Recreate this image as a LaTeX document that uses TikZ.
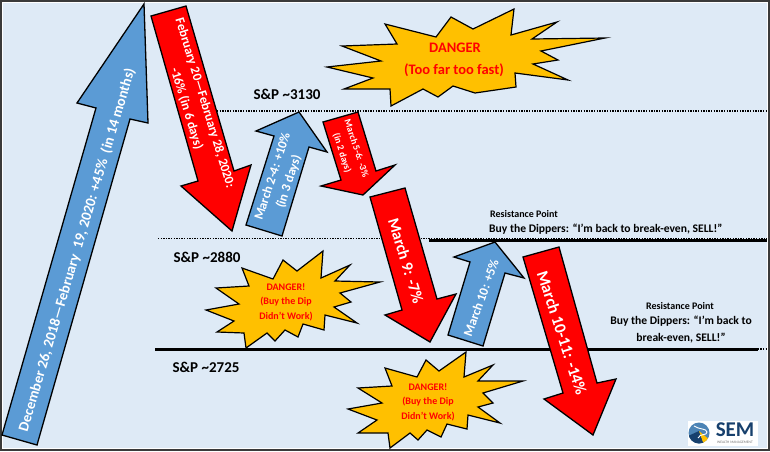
\documentclass[tikz,border=0pt]{standalone}
\usepackage{fontspec}
\setmainfont{Carlito}
\usetikzlibrary{positioning}
\definecolor{sky}{HTML}{DEEAF6}
\definecolor{frame}{HTML}{3A3A3A}
\definecolor{upblue}{HTML}{5B9BD5}
\definecolor{downred}{HTML}{FF0000}
\definecolor{burst}{HTML}{FFC000}
\definecolor{semnavy}{HTML}{17406D}
\newcommand{\fsz}[2]{\fontsize{#1}{#2}\selectfont\bfseries}
\tikzset{el/.style={line cap=butt, line join=miter, miter limit=12},
  uparrow/.style={fill=upblue, draw=black, line width=1.3pt},
  downarrow/.style={fill=downred, draw=black, line width=1.3pt},
  burststar/.style={fill=burst, draw=black, line width=1.2pt},
  arrowtext/.style={text=white, inner sep=0pt, align=center},
  bursttext/.style={text=downred, inner sep=0pt, align=center},
  leveltext/.style={text=black, inner sep=0pt, align=center},
  dotline/.style={line width=1.2pt, dash pattern=on 1.3pt off 1.3pt},
  thickline/.style={line width=3pt}}
\begin{document}
\begin{tikzpicture}[el, x=1pt, y=-1pt]
  \useasboundingbox (0,0) rectangle (770,451);
  \fill[sky] (0,0) rectangle (770,451);
  \draw[white, line width=1pt] (2.5,2.5) rectangle (767.5,448.5);
  \draw[frame, line width=2pt] (1,1) rectangle (769,450);
  % levels
  \draw[dotline] (217,111) -- (767,111);
  \draw[dotline] (158,238.5) -- (767,238.5);
  \draw[thickline, line width=2.6pt] (429,240.5) -- (767,240.5);
  \draw[dotline] (750,349) -- (767,349);
  \draw[thickline] (155,349) -- (758,349);
  % arrows up
  \draw[uparrow] (144,4) -- (148,123) -- (130,119) -- (37,445) -- (2,435) -- (96,108) -- (77,103) -- cycle;
  \draw[uparrow] (299,112) -- (327,152) -- (309,147) -- (282,236) -- (246,225) -- (274,136) -- (256,131) -- cycle;
  \draw[uparrow] (495,242) -- (524,278) -- (505,273) -- (483,346) -- (448,335) -- (470,262) -- (454,257) -- cycle;
  % arrows down
  \draw[downarrow] (151,16) -- (186,6) -- (234,171) -- (251,165) -- (232,231) -- (181,186) -- (198,181) -- cycle;
  \draw[downarrow] (323,122) -- (358,112) -- (376,171) -- (395,165) -- (363,195) -- (321,186) -- (341,180) -- cycle;
  \draw[downarrow] (370,197) -- (405,188) -- (437,299) -- (456,294) -- (430,342) -- (385,315) -- (402,310) -- cycle;
  \draw[downarrow] (523,257) -- (559,247) -- (597,383) -- (616,379) -- (593,435) -- (544,399) -- (563,393) -- cycle;
  % bursts
  \draw[burststar] (385,24) -- (436,37) -- (451,17) -- (473,29) -- (514,9) -- (511,35) -- (557,22) -- (532,39) -- (605,38) -- (541,51) -- (558,60) -- (533,64) -- (568,80) -- (515,73) -- (516,87) -- (475,93) -- (453,86) -- (438,97) -- (423,89) -- (391,106) -- (390,89) -- (344,89) -- (373,78) -- (327,67) -- (381,61) -- (342,46) -- (397,44) -- cycle;
  \draw[burststar] (242,268) -- (273,279) -- (283,260) -- (297,271) -- (323,251) -- (321,278) -- (350,265) -- (335,281) -- (380,282) -- (340,293) -- (351,302) -- (334,307) -- (357,323) -- (325,315) -- (324,330) -- (303,324) -- (298,337) -- (285,330) -- (275,341) -- (267,333) -- (246,348) -- (244,333) -- (217,332) -- (234,321) -- (206,310) -- (239,304) -- (216,288) -- (249,286) -- cycle;
  \draw[burststar] (385,368) -- (417,377) -- (426,360) -- (439,371) -- (466,352) -- (464,377) -- (493,365) -- (478,381) -- (523,381) -- (483,393) -- (493,403) -- (478,407) -- (500,423) -- (468,415) -- (467,429) -- (447,424) -- (441,437) -- (427,430) -- (418,440) -- (410,433) -- (390,448) -- (388,433) -- (358,433) -- (377,420) -- (348,409) -- (382,403) -- (358,388) -- (392,386) -- cycle;
  % arrow labels
  \node[arrowtext, rotate=73.5, font=\fsz{14.6}{17}] (bull) at (77,250) {December 26, 2018—February~~19, 2020: +45\%~~(in 14 months)};
  \node[arrowtext, rotate=-73, font=\fsz{13}{19}] (febdrop) at (195.5,106) {February 20—February 28, 2020:\\-16\% (in 6 days)};
  \node[arrowtext, rotate=72, font=\fsz{13}{17}] (marup) at (281,179) {March 2-4: +10\%\\(in 3 days)};
  \node[arrowtext, rotate=-72, font=\fsz{9.5}{15}] (mardrop) at (349,151) {March 5-6: -3\%\\(in 2 days)};
  \node[arrowtext, rotate=-73, font=\fsz{16}{20}] (nine) at (406,261) {March 9: -7\%};
  \node[arrowtext, rotate=70, font=\fsz{13}{16}] (ten) at (481,298) {March 10: +5\%};
  \node[arrowtext, rotate=-72, font=\fsz{16.5}{20}] (tenelv) at (562,333) {March 10-11: -14\%};
  % burst labels
  \node[bursttext, font=\fsz{14.5}{16}] (danger) at (455,48) {DANGER};
  \node[bursttext, font=\fsz{14.5}{16}] (toofast) at (454,70) {(Too far too fast)};
  \foreach \nm/\cx/\cy in {dipa/286/302,dipb/428/402}{
    \node[bursttext, font=\fsz{10}{14.5}] (\nm) at (\cx,\cy) {DANGER!\\(Buy the Dip\\Didn’t Work)};}
  % level labels
  \node[leveltext, font=\fsz{15}{17}] (lvla) at (287,94) {S\&P \textasciitilde3130};
  \node[leveltext, font=\fsz{15}{17}] (lvlb) at (207,257) {S\&P \textasciitilde2880};
  \node[leveltext, font=\fsz{15}{17}] (lvlc) at (206,367) {S\&P \textasciitilde2725};
  \node[leveltext, anchor=west, font=\fsz{10}{12}] (resa) at (490,214) {Resistance Point};
  \node[leveltext, anchor=west, font=\fsz{11.6}{14}] (sella) at (489,229) {Buy the Dippers: “I’m back to break-even, SELL!”};
  \node[leveltext, font=\fsz{10}{12}] (resb) at (680,306) {Resistance Point};
  \node[leveltext, font=\fsz{11.6}{16.5}] (sellb) at (681,329.5) {Buy the Dippers: “I’m back to\\break-even, SELL!”};
  % logo
  \fill[white] (688,421) rectangle (758,446);
  \begin{scope}
    \clip (699,433) circle (10.5);
    \fill[upblue!85!black] (688,422) rectangle (710,444);
    \fill[semnavy] (688,444) -- (688,436) -- (699,431) -- (704,444) -- cycle;
    \fill[burst] (699,431) -- (711,441) -- (704,445) -- cycle;
    \draw[white, line width=0.9pt] (694,426) .. controls (700,430) and (706,428) .. (707,432) .. controls (707,436) and (700,433) .. (698,438);
  \end{scope}
  \node[text=semnavy, inner sep=0pt, font=\fsz{21}{22}] (semname) at (735,430) {SEM};
  \node[text=black!55, inner sep=0pt, font=\fontsize{3.6}{4}\selectfont] (semsub) at (735,442.5) {WEALTH MANAGEMENT};
\end{tikzpicture}
\end{document}
